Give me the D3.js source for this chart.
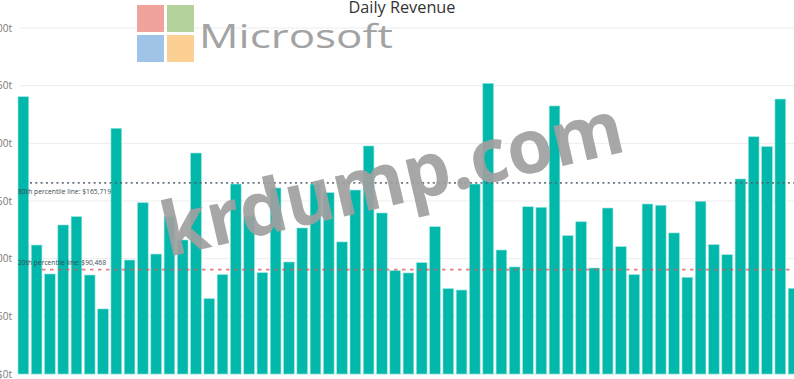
<!DOCTYPE html>
<html>
<head>
<meta charset="utf-8">
<script src="https://cdn.jsdelivr.net/npm/d3@7"></script>
<style>
  body { margin: 0; background: #fff; overflow: hidden; }
  svg { display: block; font-family: "Open Sans", "Liberation Sans", sans-serif; }
</style>
</head>
<body>
<svg id="chart" width="794" height="379"></svg>
<script>
// daily revenue in dollars
const revenue = [
  240400, 111800, 86700, 129200, 136400, 85800, 56400, 213000, 98800, 148500,
  104000, 136400, 116200, 191600, 65300, 86100, 164700, 137000, 87800, 161300,
  97100, 126600, 164700, 157200, 114500, 159500, 197700, 139600, 89600, 87600,
  96500, 127700, 74000, 72800, 164700, 252000, 107500, 92800, 145000, 144500,
  232400, 119900, 132000, 91900, 143900, 110400, 86100, 147400, 146300, 122300,
  83800, 149700, 112100, 103400, 169100, 205700, 197100, 238400, 74300
];
const days = revenue.map((d, i) => i + 1);

const yTicks = [0, 50000, 100000, 150000, 200000, 250000, 300000];

const refValues = [165719, 90468];
const refLabels = ["80th percentile line: $165,719", "20th percentile line: $90,468"];
const refColors = ["#4f5d6b", "#d8545a"];

const svg = d3.select("#chart");

const x = d3.scaleBand()
    .domain(days)
    .range([16.7, 800.2])
    .paddingInner(0.2)
    .paddingOuter(0.1);

const y = d3.scaleLinear()
    .domain([0, 300000])
    .range([374, 28]);

// gridlines
svg.append("g")
    .selectAll("line")
    .data(yTicks)
    .join("line")
    .attr("x1", 20)
    .attr("x2", 794)
    .attr("y1", d => y(d))
    .attr("y2", d => y(d))
    .attr("stroke", "#ececec")
    .attr("stroke-width", 1);

// y axis labels (cut at the left edge like the screenshot)
const yAxis = svg.append("g")
    .attr("transform", "translate(14,0)")
    .call(d3.axisLeft(y).tickValues(yTicks).tickSize(0).tickPadding(2)
        .tickFormat(d => "$" + (d / 1000) + "t"));
yAxis.select(".domain").remove();
yAxis.selectAll("text")
    .attr("fill", "#777")
    .style("font-size", "10px")
    .style("font-family", "Open Sans, sans-serif");

// title
svg.append("text")
    .attr("x", 402)
    .attr("y", 13)
    .attr("text-anchor", "middle")
    .attr("fill", "#333")
    .attr("textLength", 107)
    .attr("lengthAdjust", "spacingAndGlyphs")
    .style("font-size", "15.5px")
    .text("Daily Revenue");

// bars
svg.append("g")
    .selectAll("rect")
    .data(revenue)
    .join("rect")
    .attr("x", (d, i) => x(days[i]))
    .attr("width", x.bandwidth())
    .attr("y", d => y(d))
    .attr("height", d => y(0) - y(d))
    .attr("fill", "#01b8aa")
    .attr("stroke", "#8fe3dc")
    .attr("stroke-width", 0.6);

// percentile reference lines
svg.append("line")
    .attr("x1", 30).attr("x2", 794)
    .attr("y1", y(refValues[0])).attr("y2", y(refValues[0]))
    .attr("stroke", refColors[0])
    .attr("stroke-width", 1.7)
    .attr("stroke-dasharray", "2,3.3")
    .attr("opacity", 0.85);

svg.append("line")
    .attr("x1", 42).attr("x2", 794)
    .attr("y1", y(refValues[1])).attr("y2", y(refValues[1]))
    .attr("stroke", refColors[1])
    .attr("stroke-width", 1.6)
    .attr("stroke-dasharray", "3.5,4.5")
    .attr("opacity", 0.75);

svg.append("text")
    .attr("x", 18)
    .attr("y", y(refValues[0]) + 11)
    .attr("fill", "#3a4a55")
    .attr("textLength", 93)
    .attr("lengthAdjust", "spacingAndGlyphs")
    .style("font-size", "7.5px")
    .text(refLabels[0]);

svg.append("text")
    .attr("x", 18)
    .attr("y", y(refValues[1]) - 5)
    .attr("fill", "#3a4a55")
    .attr("textLength", 88)
    .attr("lengthAdjust", "spacingAndGlyphs")
    .style("font-size", "7.5px")
    .text(refLabels[1]);

// watermarks
const logo = svg.append("g");
const squares = [
  { x: 137, y: 5, c: "#f0a39b" },
  { x: 167, y: 5, c: "#b4d29b" },
  { x: 137, y: 35, c: "#9fc4e7" },
  { x: 167, y: 35, c: "#fcd092" }
];
logo.selectAll("rect")
    .data(squares)
    .join("rect")
    .attr("x", d => d.x)
    .attr("y", d => d.y)
    .attr("width", 27)
    .attr("height", 27)
    .attr("fill", d => d.c);

svg.append("text")
    .attr("x", 199)
    .attr("y", 48)
    .attr("fill", "#a3a3a3")
    .attr("textLength", 194)
    .attr("lengthAdjust", "spacingAndGlyphs")
    .style("font-size", "33px")
    .text("Microsoft");

svg.append("text")
    .attr("transform", "translate(168,257) rotate(-13)")
    .attr("fill", "#a0a0a0")
    .attr("opacity", 0.92)
    .attr("textLength", 472)
    .attr("lengthAdjust", "spacingAndGlyphs")
    .style("font-size", "75px")
    .style("font-weight", "bold")
    .text("krdump.com");
</script>
</body>
</html>
